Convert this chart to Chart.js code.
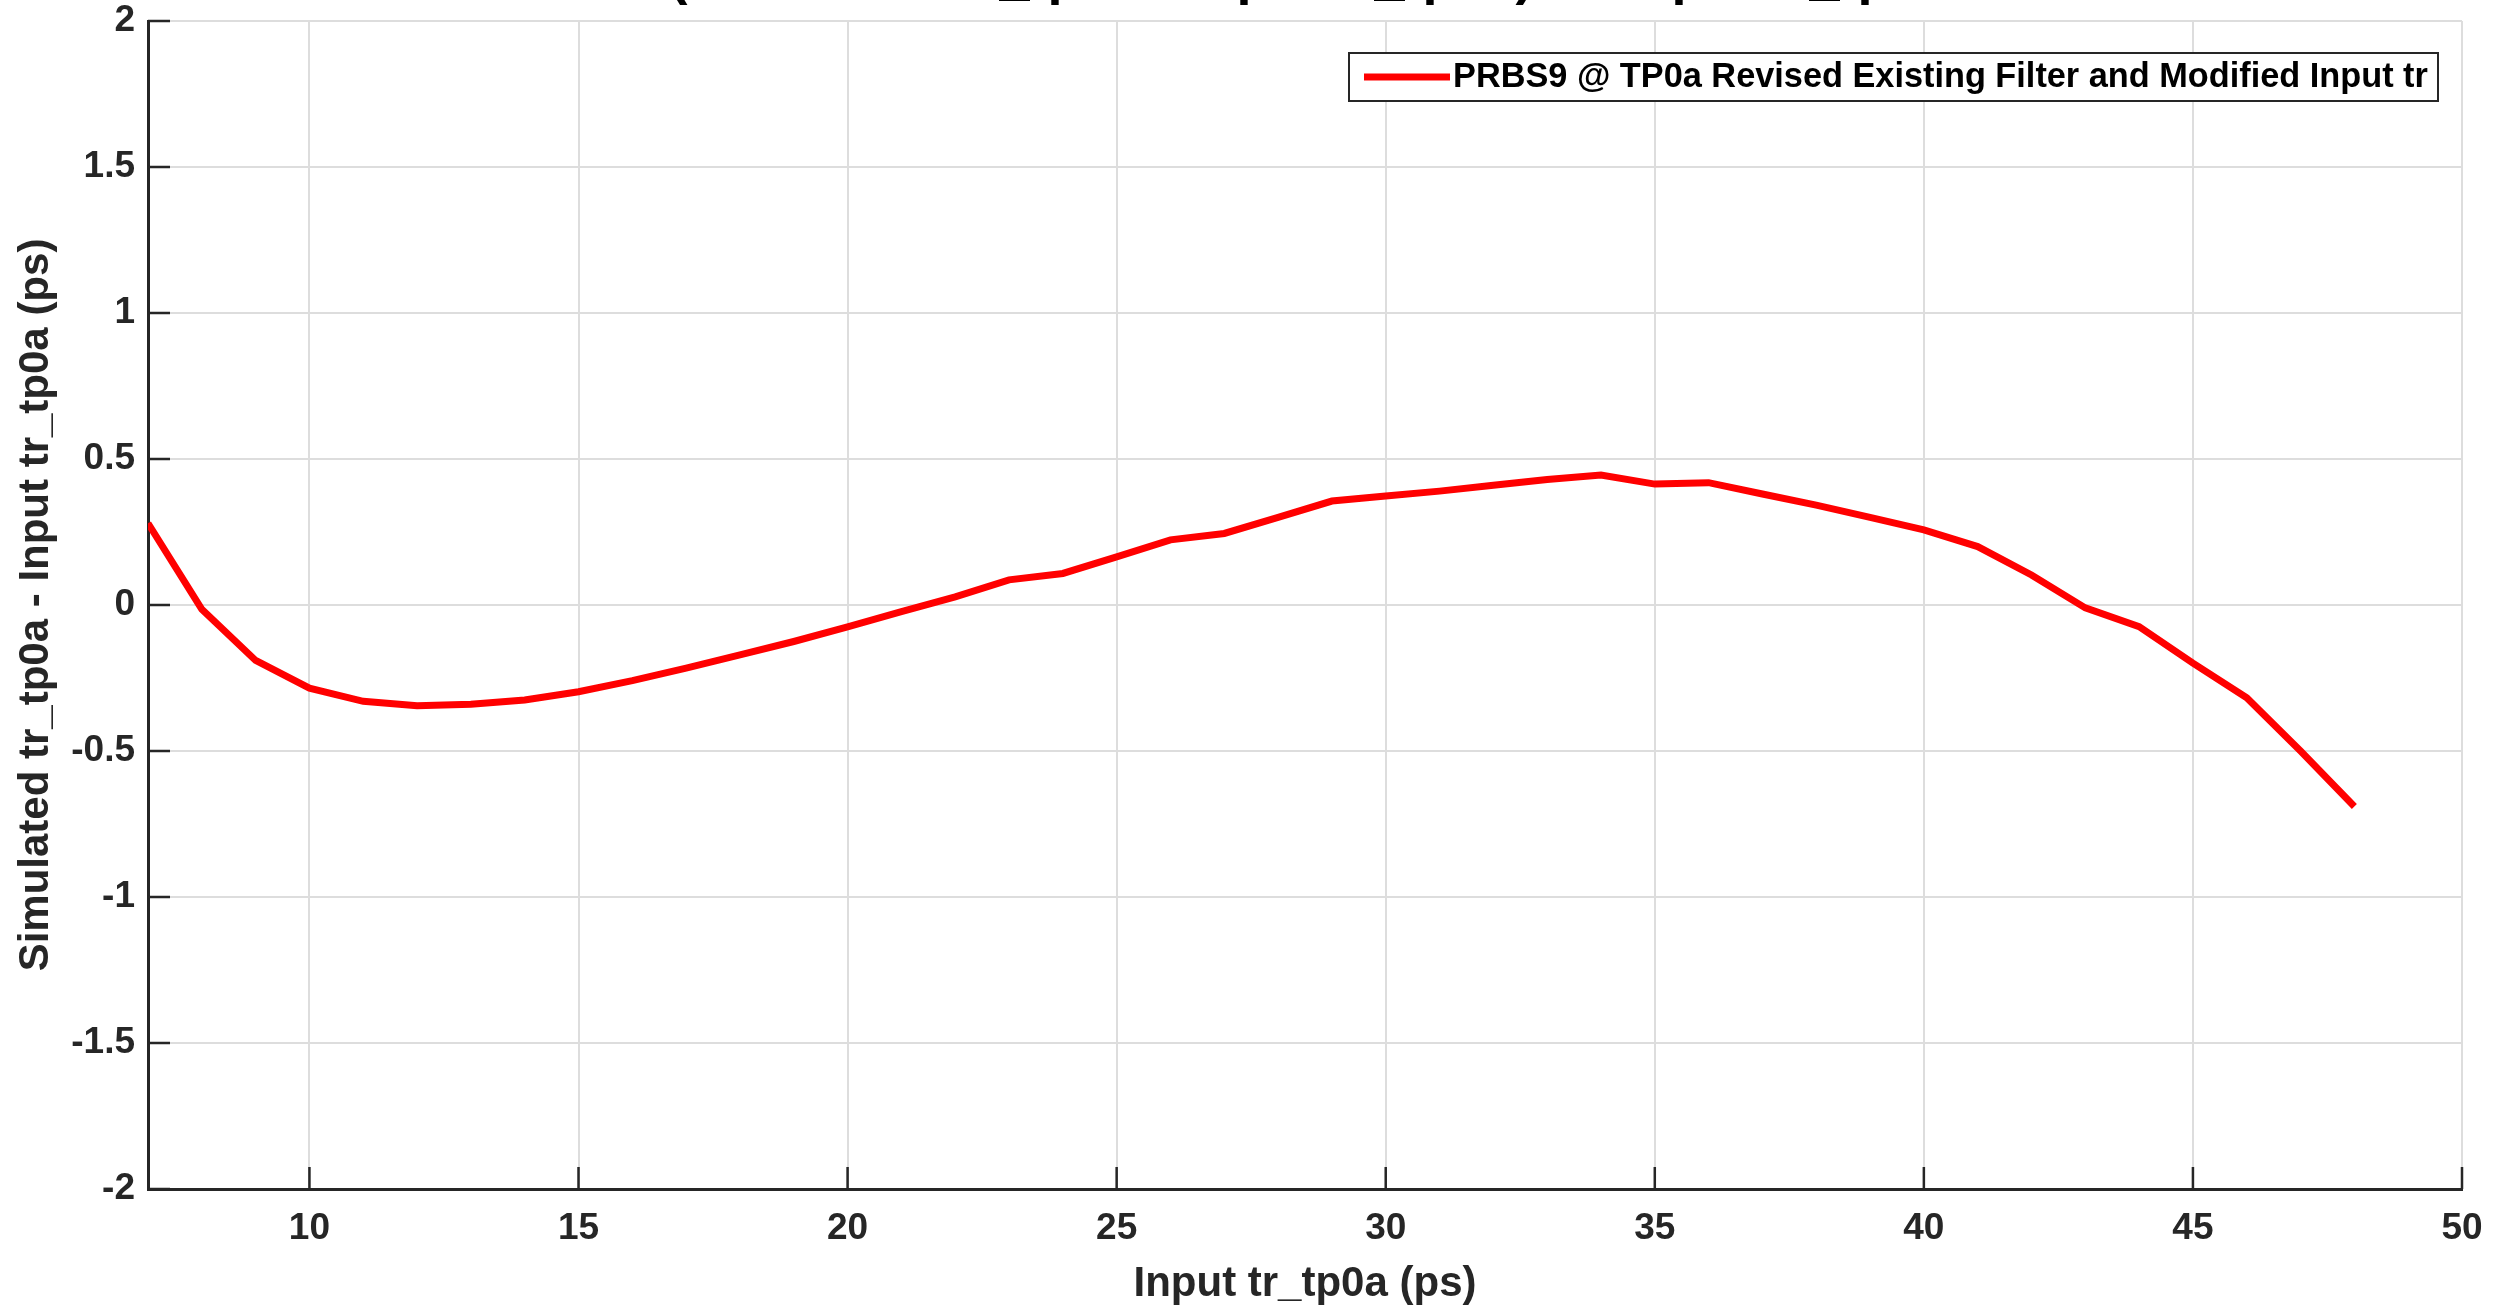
<!DOCTYPE html>
<html>
<head>
<meta charset="utf-8">
<script src="https://cdn.jsdelivr.net/npm/chart.js@4/dist/chart.umd.min.js"></script>
<style>
html,body{margin:0;padding:0;background:#fff;overflow:hidden;}
canvas{display:block;}
</style>
</head>
<body>
<canvas id="c" width="2513" height="1305"></canvas>
<script>
const titleText = "(Simulated tr_tp0a - Input tr_tp0a) vs Input tr_tp0a";
const xLabel = "Input tr_tp0a (ps)";
const yLabel = "Simulated tr_tp0a - Input tr_tp0a (ps)";
const seriesName = "PRBS9 @ TP0a Revised Existing Filter and Modified Input tr";
const inputTr = [7,8,9,10,11,12,13,14,15,16,17,18,19,20,21,22,23,24,25,26,27,28,29,30,31,32,33,34,35,36,37,38,39,40,41,42,43,44,45,46,47,48];
const deltaTr = [0.28,-0.015,-0.19,-0.285,-0.33,-0.345,-0.34,-0.325,-0.297,-0.259,-0.216,-0.171,-0.125,-0.075,-0.023,0.028,0.086,0.108,0.165,0.223,0.245,0.30,0.356,0.373,0.39,0.41,0.43,0.445,0.414,0.419,0.38,0.342,0.30,0.257,0.20,0.103,-0.01,-0.074,-0.199,-0.318,-0.50,-0.69];
const xTicks = [10,15,20,25,30,35,40,45,50];
const yTicks = [-2,-1.5,-1,-0.5,0,0.5,1,1.5,2];

const AX = '#262626';
const FONT = "'Liberation Sans', Arial, Helvetica, sans-serif";

const inwardTicks = {
  id: 'inwardTicks',
  afterDatasetsDraw(chart) {
    const ctx = chart.ctx, a = chart.chartArea;
    const xs = chart.scales.x, ys = chart.scales.y;
    ctx.save();
    ctx.strokeStyle = AX;
    ctx.lineWidth = 2.5;
    ctx.beginPath();
    xTicks.forEach(v => { const p = xs.getPixelForValue(v); ctx.moveTo(p, a.bottom); ctx.lineTo(p, a.bottom - 22); });
    yTicks.forEach(v => { const p = ys.getPixelForValue(v); ctx.moveTo(a.left, p); ctx.lineTo(a.left + 22, p); });
    ctx.stroke();
    ctx.restore();
  }
};

const customLegendTitle = {
  id: 'customLegendTitle',
  afterDraw(chart) {
    const ctx = chart.ctx, a = chart.chartArea;
    ctx.save();
    // title (clipped at top of figure)
    ctx.fillStyle = '#000';
    ctx.font = "bold 54px " + FONT;
    ctx.textAlign = 'center';
    ctx.textBaseline = 'alphabetic';
    ctx.fillText(titleText, (a.left + a.right) / 2 + 5, -6);
    // legend box
    const bx = 1349, by = 53, bw = 1089, bh = 48;
    ctx.fillStyle = '#fff';
    ctx.fillRect(bx, by, bw, bh);
    ctx.strokeStyle = AX;
    ctx.lineWidth = 2;
    ctx.strokeRect(bx, by, bw, bh);
    const ds = chart.data.datasets[0];
    ctx.strokeStyle = ds.borderColor;
    ctx.lineWidth = 7;
    ctx.beginPath();
    ctx.moveTo(bx + 15, by + bh / 2);
    ctx.lineTo(bx + 101, by + bh / 2);
    ctx.stroke();
    ctx.fillStyle = '#000';
    ctx.font = "bold 34.3px " + FONT;
    ctx.textAlign = 'left';
    ctx.textBaseline = 'middle';
    ctx.fillText(ds.label, bx + 104, by + bh / 2 + 1);
    ctx.restore();
  }
};

new Chart(document.getElementById('c'), {
  type: 'line',
  data: {
    datasets: [{
      label: seriesName,
      data: inputTr.map((x, i) => ({ x: x, y: deltaTr[i] })),
      borderColor: '#ff0000',
      backgroundColor: '#ff0000',
      borderWidth: 7,
      pointRadius: 0,
      tension: 0,
      fill: false
    }]
  },
  options: {
    responsive: false,
    animation: false,
    devicePixelRatio: 1,
    layout: { padding: { top: 21, right: 51, left: 0, bottom: 0 } },
    plugins: { legend: { display: false }, title: { display: false }, tooltip: { enabled: false } },
    scales: {
      x: {
        type: 'linear', min: 7, max: 50,
        afterBuildTicks(s) { s.ticks = xTicks.map(v => ({ value: v })); },
        afterFit(s) { s.height = 116; s.paddingLeft = 0; s.paddingRight = 0; },
        grid: { color: 'rgb(221,221,221)', lineWidth: 2, drawTicks: false },
        border: { display: true, color: AX, width: 3 },
        ticks: { color: AX, font: { family: FONT, size: 37, weight: 'bold' }, padding: 18, maxRotation: 0, autoSkip: false },
        title: { display: true, text: xLabel, color: AX, font: { family: FONT, size: 42, weight: 'bold' }, padding: { top: 0, bottom: -5 } }
      },
      y: {
        type: 'linear', min: -2, max: 2,
        afterBuildTicks(s) { s.ticks = yTicks.map(v => ({ value: v })); },
        afterFit(s) { s.width = 148; s.paddingTop = 0; s.paddingBottom = 0; },
        grid: { color: 'rgb(221,221,221)', lineWidth: 2, drawTicks: false },
        border: { display: true, color: AX, width: 3 },
        ticks: { color: AX, font: { family: FONT, size: 37, weight: 'bold' }, padding: 13, autoSkip: false,
                 callback: v => String(v) },
        title: { display: true, text: yLabel, color: AX, font: { family: FONT, size: 42, weight: 'bold' }, padding: { top: 11, bottom: 0 } }
      }
    }
  },
  plugins: [inwardTicks, customLegendTitle]
});
</script>
</body>
</html>
